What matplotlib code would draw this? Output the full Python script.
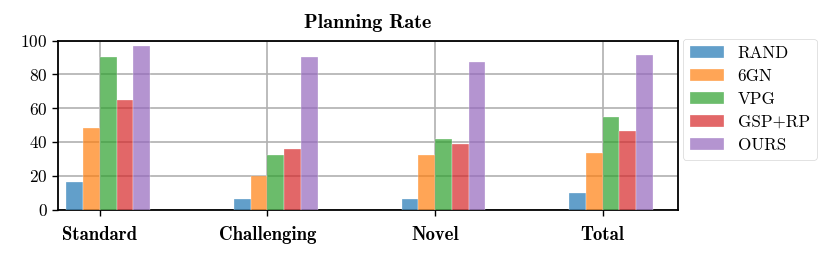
import matplotlib
matplotlib.use("Agg")
import matplotlib.pyplot as plt
import numpy as np

categories = ["Standard", "Challenging", "Novel", "Total"]
methods = ["RAND", "6GN", "VPG", "GSP+RP", "OURS"]
rand = [16, 6.5, 6.3, 9.7]
gn6 = [48.5, 20, 32.3, 33.3]
vpg = [90.5, 32.3, 42, 55]
gsp = [64.7, 35.7, 39, 46.4]
ours = [97, 90.5, 87.2, 91.7]
series = [rand, gn6, vpg, gsp, ours]
colors = ["#1f77b4", "#ff7f0e", "#2ca02c", "#d62728", "#9467bd"]

plt.rcParams["font.family"] = "serif"
plt.rcParams["font.serif"] = ["cmr10", "DejaVu Serif"]
plt.rcParams["mathtext.fontset"] = "cm"
plt.rcParams["axes.formatter.use_mathtext"] = True

fig = plt.figure(figsize=(8.3, 2.57), dpi=100)
ax = fig.add_axes([58/830, 1-209.5/257, 620/830, 169/257])

x = np.arange(len(categories))
w = 0.1
for i, (vals, m, c) in enumerate(zip(series, methods, colors)):
    ax.bar(x + (i - 2) * w, vals, w, align="edge", color=c, alpha=0.7,
           label=m, edgecolor="white", linewidth=0.3, zorder=3)

ax.set_xlim(-0.25, 3.45)
ax.set_ylim(0, 100)
ax.set_yticks([0, 20, 40, 60, 80, 100])
ax.set_xticks(x)
ax.set_xticklabels(categories, fontfamily="cmb10", fontsize=13.5)
ax.tick_params(axis="x", pad=8, length=4, width=1)
ax.tick_params(axis="y", labelsize=12.5, length=4, width=1)
ax.grid(True, color="#b0b0b0", linewidth=1.2, zorder=0)
for s in ax.spines.values():
    s.set_linewidth(1.3)
ax.set_title("Planning Rate", fontfamily="cmb10", fontsize=14.5, pad=9)

leg = ax.legend(loc="upper left", bbox_to_anchor=(1.008, 1.01), fontsize=12.3,
                frameon=True, borderaxespad=0.0, handlelength=2.0,
                labelspacing=0.45)
leg.get_frame().set_linewidth(0.5)

fig.savefig("out.png", dpi=100)
